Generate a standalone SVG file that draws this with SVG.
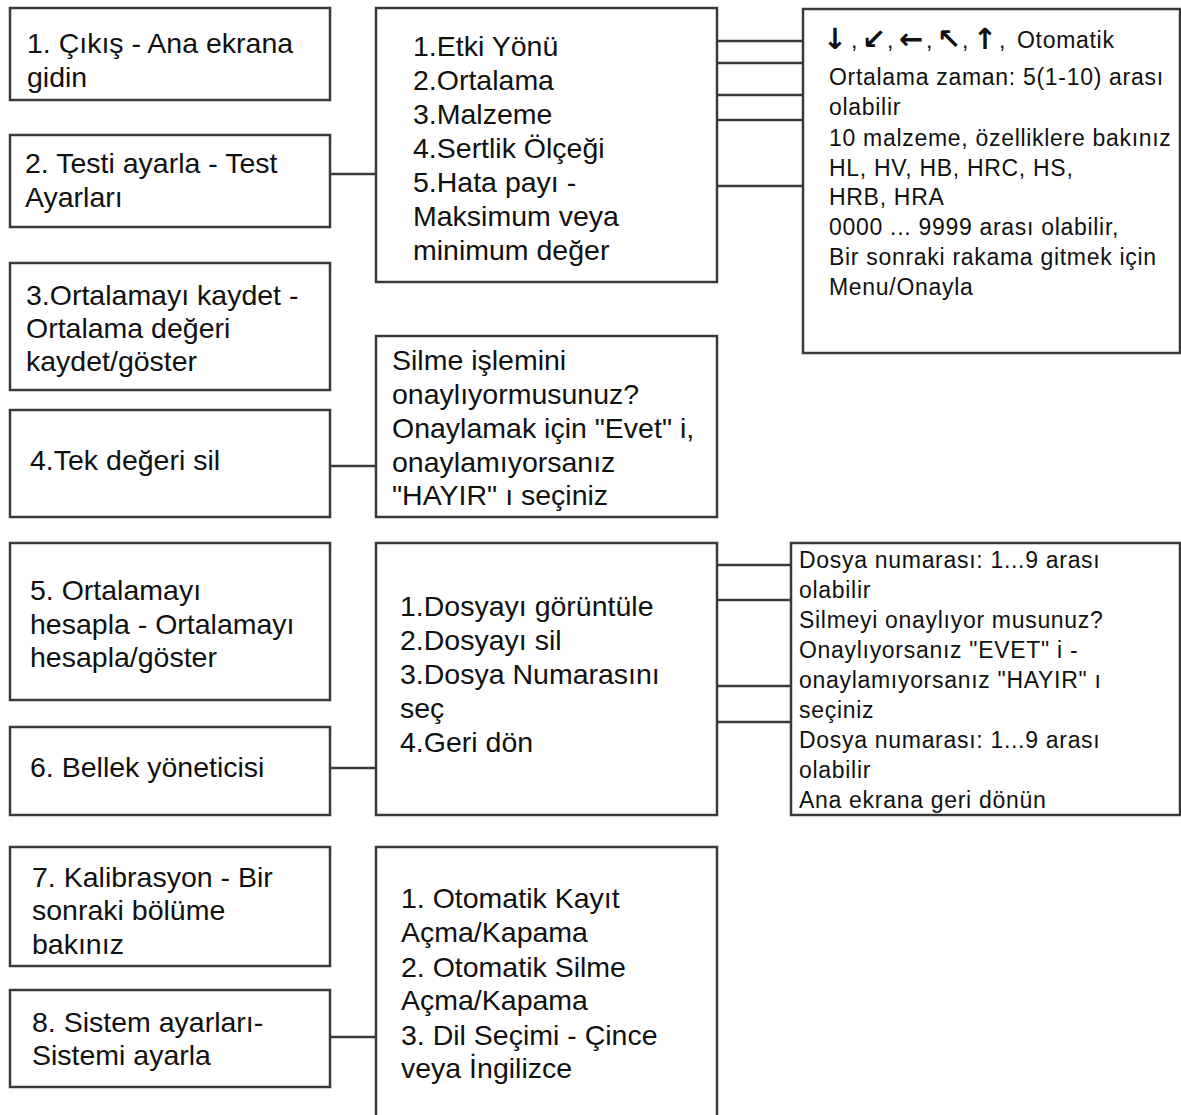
<svg xmlns="http://www.w3.org/2000/svg" width="1181" height="1115" viewBox="0 0 1181 1115">
<style>
.box{fill:#fff;stroke:#3a3a3a;stroke-width:2.5}
.ln{stroke:#3a3a3a;stroke-width:2.5;fill:none}
.big{font-family:"Liberation Sans",Arial,sans-serif;font-size:28.5px;fill:#111}
.sm{font-family:"Liberation Sans",Arial,sans-serif;font-size:23px;letter-spacing:0.7px;fill:#111}
.arr{font-family:"DejaVu Sans",sans-serif;font-size:29px;font-weight:bold;fill:#111;text-anchor:middle}
</style>
<rect width="1181" height="1115" fill="#fff"/>
<g id="connectors">
<line class="ln" x1="330" y1="174" x2="376" y2="174"/>
<line class="ln" x1="330" y1="466" x2="376" y2="466"/>
<line class="ln" x1="330" y1="768" x2="376" y2="768"/>
<line class="ln" x1="330" y1="1037" x2="376" y2="1037"/>
<line class="ln" x1="717" y1="41" x2="803" y2="41"/>
<line class="ln" x1="717" y1="63" x2="803" y2="63"/>
<line class="ln" x1="717" y1="95" x2="803" y2="95"/>
<line class="ln" x1="717" y1="120" x2="803" y2="120"/>
<line class="ln" x1="717" y1="186" x2="803" y2="186"/>
<line class="ln" x1="717" y1="565" x2="791" y2="565"/>
<line class="ln" x1="717" y1="600" x2="791" y2="600"/>
<line class="ln" x1="717" y1="686" x2="791" y2="686"/>
<line class="ln" x1="717" y1="722" x2="791" y2="722"/>
</g>
<g id="n1"><rect class="box" x="10" y="8" width="320" height="92"/>
<text class="big" x="27"><tspan x="27" y="53">1. Çıkış - Ana ekrana</tspan><tspan x="27" y="87">gidin</tspan></text></g>
<g id="n2"><rect class="box" x="10" y="135" width="320" height="92"/>
<text class="big"><tspan x="25" y="173">2. Testi ayarla - Test</tspan><tspan x="25" y="207">Ayarları</tspan></text></g>
<g id="n3"><rect class="box" x="10" y="263" width="320" height="127"/>
<text class="big"><tspan x="26" y="305">3.Ortalamayı kaydet -</tspan><tspan x="26" y="338">Ortalama değeri</tspan><tspan x="26" y="371">kaydet/göster</tspan></text></g>
<g id="n4"><rect class="box" x="10" y="410" width="320" height="107"/>
<text class="big"><tspan x="30" y="470">4.Tek değeri sil</tspan></text></g>
<g id="n5"><rect class="box" x="10" y="543" width="320" height="157"/>
<text class="big"><tspan x="30" y="600">5. Ortalamayı</tspan><tspan x="30" y="634">hesapla - Ortalamayı</tspan><tspan x="30" y="667">hesapla/göster</tspan></text></g>
<g id="n6"><rect class="box" x="10" y="727" width="320" height="88"/>
<text class="big"><tspan x="30" y="777">6. Bellek yöneticisi</tspan></text></g>
<g id="n7"><rect class="box" x="10" y="847" width="320" height="119"/>
<text class="big"><tspan x="32" y="887">7. Kalibrasyon - Bir</tspan><tspan x="32" y="920">sonraki bölüme</tspan><tspan x="32" y="954">bakınız</tspan></text></g>
<g id="n8"><rect class="box" x="10" y="990" width="320" height="97"/>
<text class="big"><tspan x="32" y="1032">8. Sistem ayarları-</tspan><tspan x="32" y="1065">Sistemi ayarla</tspan></text></g>
<g id="m1"><rect class="box" x="376" y="8" width="341" height="274"/>
<text class="big"><tspan x="413" y="56">1.Etki Yönü</tspan><tspan x="413" y="90">2.Ortalama</tspan><tspan x="413" y="124">3.Malzeme</tspan><tspan x="413" y="158">4.Sertlik Ölçeği</tspan><tspan x="413" y="192">5.Hata payı -</tspan><tspan x="413" y="226">Maksimum veya</tspan><tspan x="413" y="260">minimum değer</tspan></text></g>
<g id="m2"><rect class="box" x="376" y="336" width="341" height="181"/>
<text class="big"><tspan x="392" y="370">Silme işlemini</tspan><tspan x="392" y="404">onaylıyormusunuz?</tspan><tspan x="392" y="438">Onaylamak için "Evet" i,</tspan><tspan x="392" y="472">onaylamıyorsanız</tspan><tspan x="392" y="505">"HAYIR" ı seçiniz</tspan></text></g>
<g id="m3"><rect class="box" x="376" y="543" width="341" height="272"/>
<text class="big"><tspan x="400" y="616">1.Dosyayı görüntüle</tspan><tspan x="400" y="650">2.Dosyayı sil</tspan><tspan x="400" y="684">3.Dosya Numarasını</tspan><tspan x="400" y="718">seç</tspan><tspan x="400" y="752">4.Geri dön</tspan></text></g>
<g id="m4"><rect class="box" x="376" y="847" width="341" height="300"/>
<text class="big"><tspan x="401" y="908">1. Otomatik Kayıt</tspan><tspan x="401" y="942">Açma/Kapama</tspan><tspan x="401" y="977">2. Otomatik Silme</tspan><tspan x="401" y="1010">Açma/Kapama</tspan><tspan x="401" y="1045">3. Dil Seçimi - Çince</tspan><tspan x="401" y="1078">veya İngilizce</tspan></text></g>
<g id="r1"><rect class="box" x="803" y="9" width="377" height="344"/>
<text class="arr"><tspan x="835" y="49">↓</tspan><tspan x="874" y="49">↙</tspan><tspan x="911" y="49">←</tspan><tspan x="949" y="49">↖</tspan><tspan x="985" y="49">↑</tspan></text>
<text class="sm"><tspan x="851" y="48">,</tspan><tspan x="887" y="48">,</tspan><tspan x="926" y="48">,</tspan><tspan x="962" y="48">,</tspan><tspan x="999" y="48">,</tspan></text>
<text class="sm" x="1017" y="48">Otomatik</text>
<text class="sm"><tspan x="829" y="85">Ortalama zaman: 5(1-10) arası</tspan><tspan x="829" y="115">olabilir</tspan><tspan x="829" y="146">10 malzeme, özelliklere bakınız</tspan><tspan x="829" y="176">HL, HV, HB, HRC, HS,</tspan><tspan x="829" y="205">HRB, HRA</tspan><tspan x="829" y="235">0000 ... 9999 arası olabilir,</tspan><tspan x="829" y="265">Bir sonraki rakama gitmek için</tspan><tspan x="829" y="295">Menu/Onayla</tspan></text></g>
<g id="r2"><rect class="box" x="791" y="543" width="389" height="272"/>
<text class="sm"><tspan x="799" y="568">Dosya numarası: 1...9 arası</tspan><tspan x="799" y="598">olabilir</tspan><tspan x="799" y="628">Silmeyi onaylıyor musunuz?</tspan><tspan x="799" y="658">Onaylıyorsanız "EVET" i -</tspan><tspan x="799" y="688">onaylamıyorsanız "HAYIR" ı</tspan><tspan x="799" y="718">seçiniz</tspan><tspan x="799" y="748">Dosya numarası: 1...9 arası</tspan><tspan x="799" y="778">olabilir</tspan><tspan x="799" y="808">Ana ekrana geri dönün</tspan></text></g>
</svg>
